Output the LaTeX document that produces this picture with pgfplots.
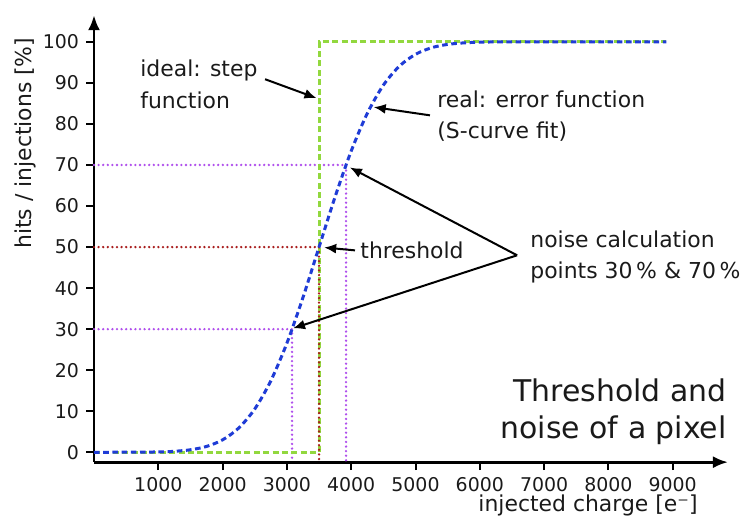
\documentclass[border=0pt]{standalone}
\usepackage{fontspec}
\setmainfont{DejaVu Sans}
\usepackage{pgfplots}
\pgfplotsset{compat=1.18}
\usetikzlibrary{arrows.meta}

\definecolor{cStep}{HTML}{92D83E}
\definecolor{cFit}{HTML}{1F3CD6}
\definecolor{cNoise}{HTML}{B050EC}
\definecolor{cThr}{HTML}{A81C1C}
\definecolor{cTxt}{HTML}{1A1A1A}

\begin{document}
\begin{tikzpicture}
\begin{axis}[
  scale only axis, width=317bp, height=223.5bp,
  xmin=0, xmax=9860, ymin=-2.4, ymax=106.5,
  axis lines=left,
  axis line style={line width=1.4bp, -{Latex[length=7.5bp,width=6bp]}},
  xtick={1000,2000,...,9000}, ytick={0,10,...,100},
  tick align=outside, major tick length=4bp,
  tick style={line width=1bp, black},
  tick label style={font=\fontsize{9.5}{11}\selectfont, text=cTxt},
  /pgf/number format/assume math mode=true,
  /pgf/number format/set thousands separator={},
  scaled x ticks=false,
  clip=false,
]
\tikzset{dots/.style={line width=1.3bp, line cap=round, dash pattern=on 0bp off 2.3bp}}
% guide lines at 30 / 50 / 70 %
\addplot[cNoise, dots] coordinates {(0,70) (3920,70) (3920,-2.4)};
\addplot[cNoise, dots] coordinates {(0,30) (3080,30) (3080,-2.4)};
% ideal step
\addplot[cStep, line width=1.5bp, dash pattern=on 3bp off 1.7bp] coordinates {(0,0) (3500,0) (3500,100) (8900,100)};
\addplot[cThr, dots] coordinates {(0,50) (3500,50) (3500,-2.4)};
% S-curve fit
\addplot[cFit, line width=1.5bp, dash pattern=on 2.8bp off 1.8bp, smooth] coordinates {
 (0,0) (1000,0.09) (1250,0.25) (1500,0.62) (1750,1.43) (2000,3.04) (2250,5.91)
 (2500,10.56) (2750,17.43) (3000,26.60) (3250,37.73) (3500,50) (3750,62.27)
 (4000,73.40) (4250,82.57) (4500,89.44) (4750,94.09) (5000,96.96) (5250,98.57)
 (5500,99.38) (5750,99.75) (6000,99.91) (6500,100) (8900,100)};

\tikzset{ann/.style={line width=1bp, black, -{Latex[length=6bp,width=5bp]}}}
\draw[ann] (axis cs:2660,90.9) -- (axis cs:3460,86.3);
\draw[ann] (axis cs:5225,82.1) -- (axis cs:4350,84.1);
\draw[ann] (axis cs:4059,49.2) -- (axis cs:3580,49.9);
\draw[ann] (axis cs:6580,48.0) -- (axis cs:3980,69.4);
\draw[ann] (axis cs:6580,48.0) -- (axis cs:3095,30.2);

\node[anchor=west, align=left, text=cTxt, font=\fontsize{11}{16}\selectfont, inner sep=0pt] at (axis cs:715,89.7) {ideal: step\\function};
\node[anchor=west, align=left, text=cTxt, font=\fontsize{11}{15.5}\selectfont, inner sep=0pt] at (axis cs:5334,82.0) {real: error function\\(S-curve fit)};
\node[anchor=west, text=cTxt, font=\fontsize{11}{15.5}\selectfont, inner sep=0pt] at (axis cs:4137,49.2) {threshold};
\node[anchor=west, align=left, text=cTxt, font=\fontsize{11}{15.5}\selectfont, inner sep=0pt] at (axis cs:6781,47.6) {noise calculation\\points 30\,\% \& 70\,\%};
\node[anchor=east, align=right, text=cTxt, font=\fontsize{15}{18.5}\selectfont, inner sep=0pt] at (axis cs:9844,9.8) {Threshold and\\noise of a pixel};

\node[rotate=90, text=cTxt, font=\fontsize{11}{13}\selectfont, inner sep=0pt] at (axis cs:-1073,75.3) {hits / injections [\%]};
\node[text=cTxt, font=\fontsize{11}{13}\selectfont, inner sep=0pt] at (axis cs:7683,-13.0) {injected charge [e⁻]};

\coordinate (bl) at (axis cs:-1462,-17.1);
\coordinate (tr) at (axis cs:10078,110.2);
\end{axis}
\pgfresetboundingbox
\path (bl) rectangle (tr);
\end{tikzpicture}
\end{document}
